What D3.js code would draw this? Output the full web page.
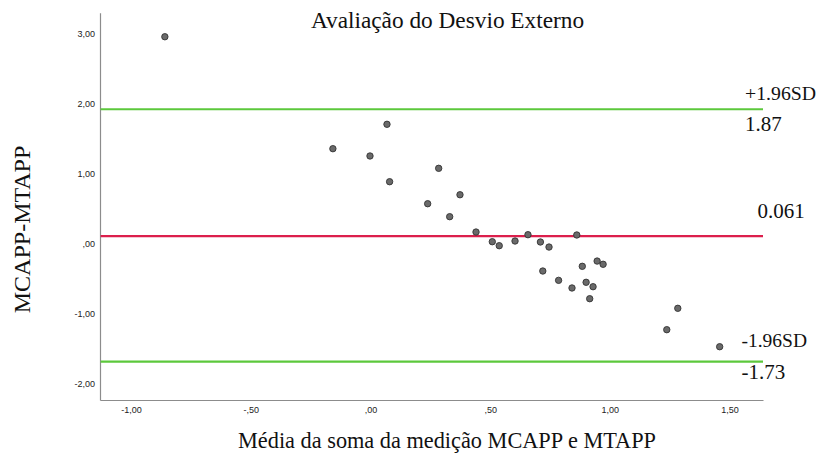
<!DOCTYPE html>
<html>
<head>
<meta charset="utf-8">
<script src="https://cdn.jsdelivr.net/npm/d3@7"></script>
<style>
  html, body { margin: 0; padding: 0; background: #fff; }
  svg { display: block; }
</style>
</head>
<body>
<svg id="chart" width="818" height="454"></svg>
<script>
// ---- data ----
const meanValues = [-0.859, 0.069, -0.157, -0.002, 0.285, 0.080, 0.374, 0.239, 0.331, 0.441,
                    0.658, 0.862, 0.509, 0.538, 0.604, 0.710, 0.746, 0.947, 0.972, 0.885,
                    0.720, 0.786, 0.901, 0.842, 0.930, 0.916, 1.284, 1.238, 1.459];
const diffValues = [2.904, 1.655, 1.307, 1.203, 1.027, 0.836, 0.650, 0.522, 0.337, 0.118,
                    0.080, 0.076, -0.020, -0.077, -0.010, -0.024, -0.096, -0.296, -0.342, -0.371,
                    -0.438, -0.571, -0.599, -0.680, -0.662, -0.833, -0.970, -1.275, -1.518];
const xTicks = [-1.0, -0.5, 0.0, 0.5, 1.0, 1.5];
const yTicks = [3.0, 2.0, 1.0, 0.0, -1.0, -2.0];
const refLines = [
  { value: 1.87, name: "+1.96SD", label: "1.87" },
  { value: 0.061, name: "", label: "0.061" },
  { value: -1.73, name: "-1.96SD", label: "-1.73" }
];
const titleText = "Avaliação do Desvio Externo";
const xTitle = "Média da soma da medição MCAPP e MTAPP";
const yTitle = "MCAPP-MTAPP";

// ---- layout ----
const plotLeft = 100, plotRight = 763, plotTop = 12.7, plotBottom = 400;
const svg = d3.select("#chart");

const x = d3.scaleLinear().domain([-1.130, 1.640]).range([plotLeft, plotRight]);
const y = d3.scaleLinear().domain([-2.278, 3.247]).range([plotBottom, plotTop]);

// SPSS-style number format: ",50", "-1,00"
function spssFmt(v) {
  let s = Math.abs(v).toFixed(2).replace(".", ",");
  if (s.startsWith("0,")) s = s.slice(1);
  return (v < 0 ? "-" : "") + s;
}

// axes
const xAxis = d3.axisBottom(x).tickValues(xTicks).tickFormat(spssFmt).tickSize(0).tickPadding(7);
const gx = svg.append("g").attr("transform", `translate(0,${plotBottom})`).call(xAxis);
gx.select(".domain").attr("stroke", "#8c8c8c").attr("stroke-width", 1.2);
gx.selectAll("text").attr("font-family", "'Liberation Sans', Arial, sans-serif")
  .attr("font-size", 9).attr("fill", "#222");

const yAxis = d3.axisLeft(y).tickValues(yTicks).tickFormat(spssFmt).tickSize(0).tickPadding(5);
const gy = svg.append("g").attr("transform", `translate(${plotLeft},0)`).call(yAxis);
gy.select(".domain").attr("stroke", "#8c8c8c").attr("stroke-width", 1.2);
gy.selectAll("text").attr("font-family", "'Liberation Sans', Arial, sans-serif")
  .attr("font-size", 9).attr("fill", "#222").attr("dy", "0.72em");

// reference lines
const lineColors = ["#5cc83c", "#dc1f4c", "#5cc83c"];
svg.append("g").selectAll("line").data(refLines).join("line")
  .attr("x1", plotLeft + 0.6).attr("x2", plotRight)
  .attr("y1", d => y(d.value)).attr("y2", d => y(d.value))
  .attr("stroke", (d, i) => lineColors[i]).attr("stroke-width", 2.2);

// reference line labels
const serif = "'Liberation Serif', 'Times New Roman', serif";
const lbl = svg.append("g").attr("font-family", serif).attr("font-size", 21).attr("fill", "#111");
lbl.append("text").attr("x", plotRight - 18).attr("y", y(refLines[0].value) - 9.5)
  .attr("font-size", 19.8).text(refLines[0].name);
lbl.append("text").attr("x", plotRight - 18).attr("y", y(refLines[0].value) + 22).text(refLines[0].label);
lbl.append("text").attr("x", plotRight - 5.5).attr("y", y(refLines[1].value) - 18).text(refLines[1].label);
lbl.append("text").attr("x", plotRight - 21.5).attr("y", y(refLines[2].value) - 14.5)
  .attr("font-size", 19.5).text(refLines[2].name);
lbl.append("text").attr("x", plotRight - 21.5).attr("y", y(refLines[2].value) + 17.5).text(refLines[2].label);

// points
const pts = meanValues.map((m, i) => ({ m, d: diffValues[i] }));
svg.append("g").selectAll("circle").data(pts).join("circle")
  .attr("cx", p => x(p.m)).attr("cy", p => y(p.d)).attr("r", 3.2)
  .attr("fill", "#6a6a6a").attr("stroke", "#333").attr("stroke-width", 0.9);

// titles
svg.append("text").attr("x", 447.5).attr("y", 28).attr("text-anchor", "middle")
  .attr("font-family", serif).attr("font-size", 23.3).attr("fill", "#111").text(titleText);
svg.append("text").attr("x", 447).attr("y", 448).attr("text-anchor", "middle")
  .attr("font-family", serif).attr("font-size", 22.3).attr("fill", "#111").text(xTitle);
svg.append("text").attr("transform", "translate(30,229.5) rotate(-90)").attr("text-anchor", "middle")
  .attr("font-family", serif).attr("font-size", 24).attr("fill", "#111").text(yTitle);
</script>
</body>
</html>
